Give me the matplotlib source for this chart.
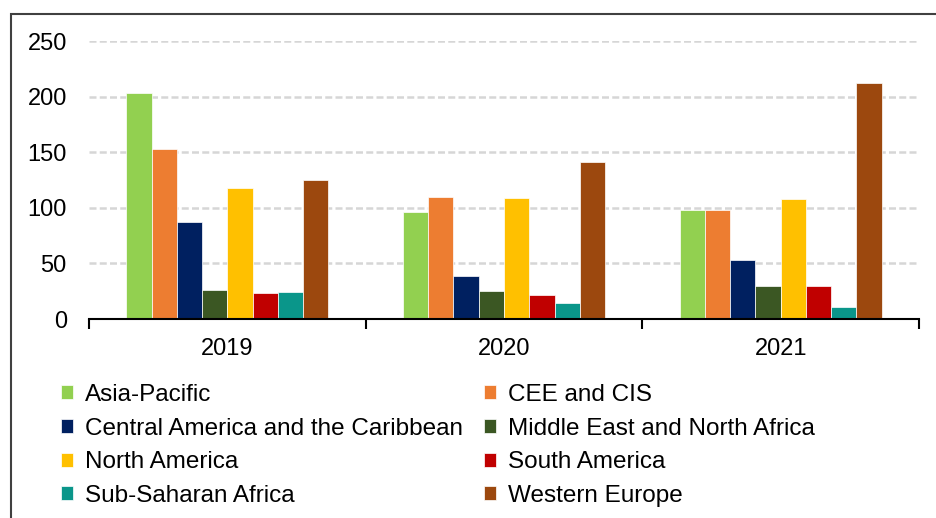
import numpy as np
import matplotlib.pyplot as plt
from matplotlib.patches import Rectangle

plt.rcParams['font.family'] = ['Liberation Sans', 'DejaVu Sans']

years = ['2019', '2020', '2021']
regions = ['Asia-Pacific', 'CEE and CIS', 'Central America and the Caribbean',
           'Middle East and North Africa', 'North America', 'South America',
           'Sub-Saharan Africa', 'Western Europe']
colors = ['#92D050', '#ED7D31', '#002060', '#3B5723',
          '#FFC000', '#C00000', '#0A968A', '#9C480E']

# values per region, one per year
asia_pacific = [203, 96, 98]
cee_cis = [153, 110, 98]
central_america = [87, 39, 53]
mena = [26, 25, 30]
north_america = [118, 109, 108]
south_america = [23, 22, 30]
sub_saharan = [24, 14, 11]
western_europe = [125, 141, 212]

series = [asia_pacific, cee_cis, central_america, mena,
          north_america, south_america, sub_saharan, western_europe]

fig = plt.figure(figsize=(9.36, 5.18), dpi=100)
ax = fig.add_axes([89/936, 1 - 319/518, (919 - 89)/936, (319 - 41)/518])

x = np.arange(len(years))
w = 0.0913
bars = []
for i, (vals, c) in enumerate(zip(series, colors)):
    off = (i - 3.5) * w
    b = ax.bar(x + off, vals, w, color=c, edgecolor='white', linewidth=0.5,
               label=regions[i], zorder=3)
    bars.append(b)

ax.set_xlim(-0.5, 2.5)
ax.set_ylim(0, 250)
ax.set_yticks([0, 50, 100, 150, 200, 250])
ax.grid(axis='y', color='#D6D6D6', linestyle=(0, (2.8, 1.3)), linewidth=1.8, zorder=0)
ax.set_axisbelow(True)

for s in ['top', 'right', 'left']:
    ax.spines[s].set_visible(False)
ax.spines['bottom'].set_linewidth(1.5)
ax.spines['bottom'].set_zorder(4)

ax.set_xticks(x)
ax.set_xticklabels(years)
ax.set_xticks([-0.5, 0.5, 1.5, 2.5], minor=True)
ax.tick_params(axis='x', which='major', length=0, labelsize=17, pad=14)
ax.tick_params(axis='x', which='minor', length=7, width=1.5, direction='out')
ax.tick_params(axis='y', length=0, labelsize=17, pad=16)

order = [0, 2, 4, 6, 1, 3, 5, 7]
fig.legend([bars[i] for i in order], [regions[i] for i in order],
           loc='upper left', bbox_to_anchor=(61/936, 1 - 384/518), ncol=2,
           frameon=False, fontsize=17.5, handlelength=0.5, handleheight=0.5,
           handletextpad=0.5, labelspacing=0.48, columnspacing=0.85,
           borderpad=0, borderaxespad=0)

# outer frame, only left and top edges inside the picture
fig.patches.append(Rectangle((11/936, -0.1), 1.2, 1 - 14/518 + 0.1,
                             transform=fig.transFigure, fill=False,
                             edgecolor='#404040', linewidth=1.5))

fig.savefig('out.png', dpi=100)
